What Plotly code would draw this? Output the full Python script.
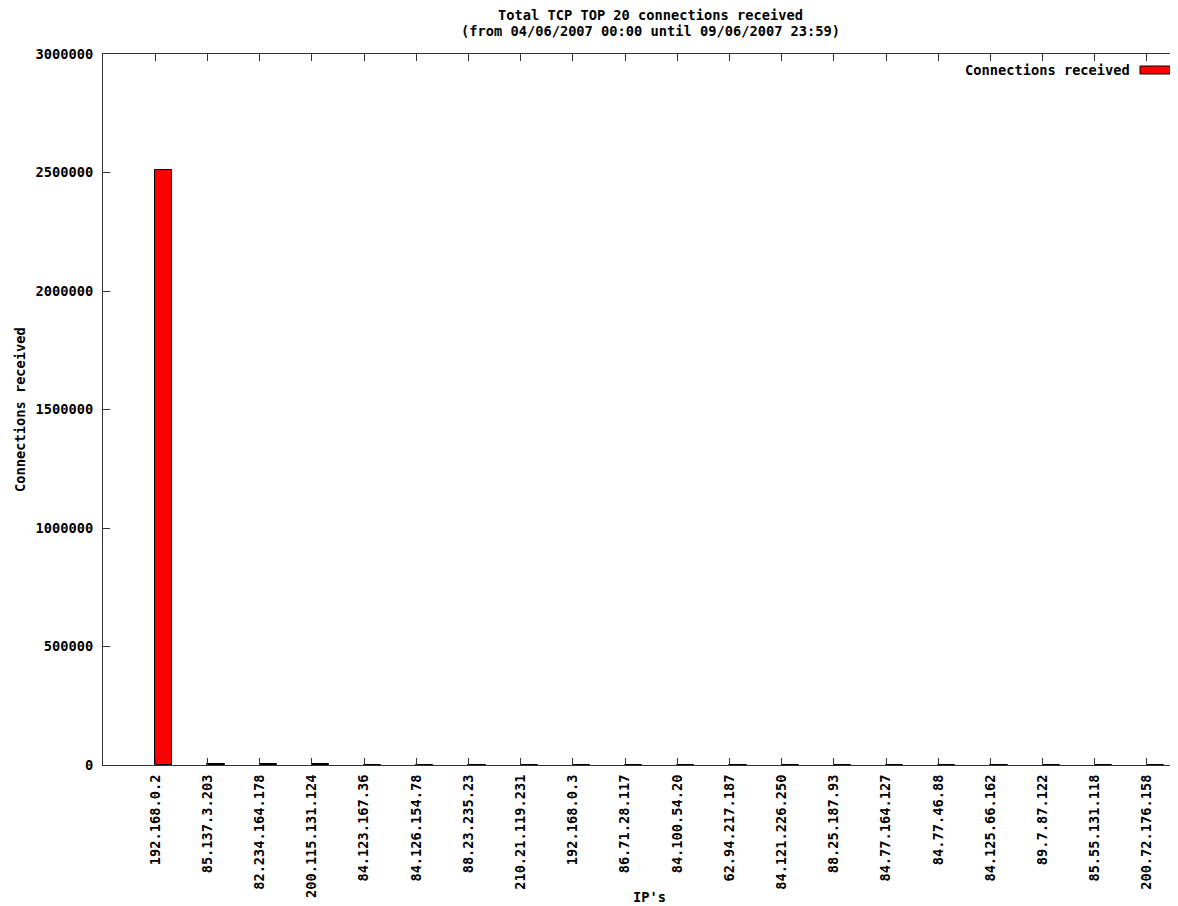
import plotly.graph_objects as go

ips = ["192.168.0.2", "85.137.3.203", "82.234.164.178", "200.115.131.124",
       "84.123.167.36", "84.126.154.78", "88.23.235.23", "210.21.119.231",
       "192.168.0.3", "86.71.28.117", "84.100.54.20", "62.94.217.187",
       "84.121.226.250", "88.25.187.93", "84.77.164.127", "84.77.46.88",
       "84.125.66.162", "89.7.87.122", "85.55.131.118", "200.72.176.158"]
connections = [2510000, 4800, 4100, 3600, 700, 650, 600, 560, 530, 500,
               480, 460, 440, 420, 400, 380, 360, 340, 320, 300]
y_ticks = [0, 500000, 1000000, 1500000, 2000000, 2500000, 3000000]
series_name = "Connections received"
title_lines = ["Total TCP TOP 20 connections received",
               "(from 04/06/2007 00:00 until 09/06/2007 23:59)"]
x_title = "IP's"
y_title = "Connections received"

# page body has an 8px margin; compensate so the figure fills the window
OFF = 8
W, H = 1178 - OFF, 906 - OFF
ML, MT, MR, MB = 103 - OFF, 54 - OFF, 0, 906 - 765
pw = W - ML - MR
ph = H - MT - MB

FAM = "DejaVu Sans Mono, Liberation Mono, monospace"
FONT = dict(family=FAM, size=13.7, color="black")
AX = "#333333"

idx = list(range(len(ips)))

fig = go.Figure()
fig.add_trace(go.Bar(
    x=idx, y=connections, name=series_name,
    width=0.33, offset=0,
    marker=dict(color="#ff0000", line=dict(color="black", width=1)),
    showlegend=False,
))

def px_x(p):
    return (p - OFF - ML) / pw

def px_y(p):
    return 1 - (p - OFF - MT) / ph

b = lambda s: "<b>%s</b>" % s

annotations = [
    dict(text=b(title_lines[0]), xref="paper", yref="paper",
         x=px_x(650), y=px_y(15), xanchor="center", yanchor="middle",
         showarrow=False, font=FONT),
    dict(text=b(title_lines[1]), xref="paper", yref="paper",
         x=px_x(650), y=px_y(31), xanchor="center", yanchor="middle",
         showarrow=False, font=FONT),
    dict(text=b(x_title), xref="paper", yref="paper",
         x=px_x(649), y=px_y(897), xanchor="center", yanchor="middle",
         showarrow=False, font=FONT),
    dict(text=b(y_title), xref="paper", yref="paper",
         x=px_x(20), y=px_y(410), xanchor="center", yanchor="middle",
         textangle=-90, showarrow=False, font=FONT),
    dict(text=b(series_name), xref="paper", yref="paper",
         x=px_x(1132), y=px_y(70), xanchor="right", yanchor="middle",
         showarrow=False, font=FONT),
]

fig.update_layout(
    width=W, height=H,
    margin=dict(l=ML, r=MR, t=MT, b=MB, pad=0),
    paper_bgcolor="white", plot_bgcolor="white",
    font=FONT,
    bargap=0,
    xaxis=dict(
        range=[-1, 19.594], tickmode="array", tickvals=idx,
        ticktext=[b(t) for t in ips],
        tickangle=-90, ticks="inside", ticklen=7, tickcolor=AX, tickwidth=1,
        showline=True, linecolor=AX, linewidth=1, mirror="allticks",
        showgrid=False, zeroline=False, tickfont=FONT, ticklabelstandoff=3,
    ),
    yaxis=dict(
        range=[0, 3000000], tickmode="array", tickvals=y_ticks,
        ticktext=[b(v) for v in y_ticks],
        ticks="inside", ticklen=7, tickcolor=AX, tickwidth=1,
        showline=True, linecolor=AX, linewidth=1, mirror=False,
        showgrid=False, zeroline=False, tickfont=FONT, ticklabelstandoff=6,
    ),
    annotations=annotations,
    shapes=[
        dict(type="rect", xref="paper", yref="paper",
             x0=px_x(1140), x1=px_x(1190), y0=px_y(74), y1=px_y(66),
             fillcolor="#ff0000", line=dict(color="black", width=1)),
    ],
)

fig.write_html("out.html")
